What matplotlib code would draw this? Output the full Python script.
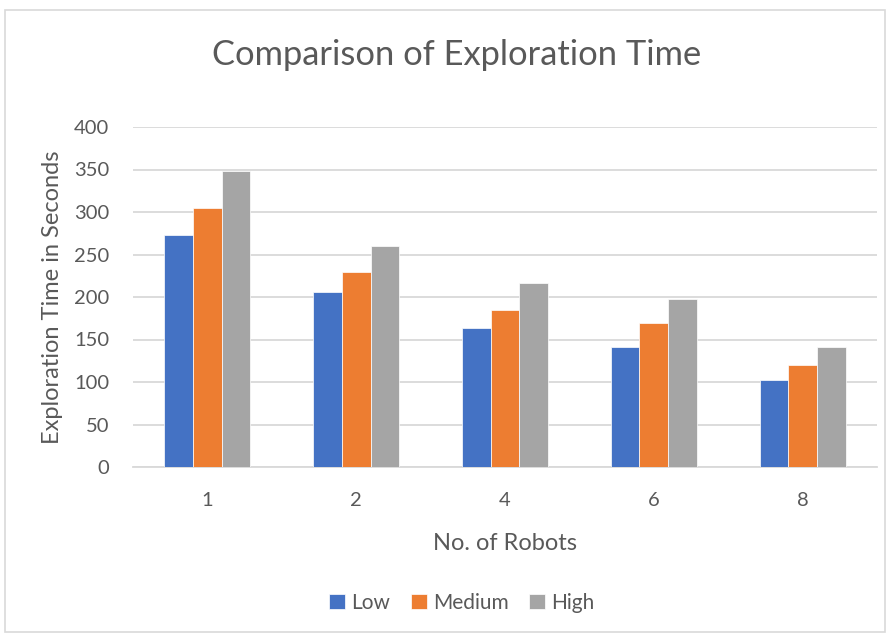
import numpy as np
import matplotlib.pyplot as plt
from matplotlib.patches import Rectangle

plt.rcParams['font.family'] = ['Lato', 'DejaVu Sans']

robots = ['1', '2', '4', '6', '8']
low = [273, 206, 163, 141, 102]
medium = [305, 229, 185, 170, 120]
high = [348, 260, 216, 198, 141]

series = [('Low', low, '#4472C4'), ('Medium', medium, '#ED7D31'), ('High', high, '#A5A5A5')]

fig = plt.figure(figsize=(8.93, 6.37), dpi=100)
ax = fig.add_axes([133 / 893, 1 - 467 / 637, (877 - 133) / 893, (467 - 127) / 637])

x = np.arange(len(robots))
w = 0.193
for i, (name, vals, col) in enumerate(series):
    ax.bar(x + (i - 1) * w, vals, w, color=col, label=name, zorder=3,
           edgecolor='white', linewidth=0.5)

ax.set_xlim(-0.5, len(robots) - 0.5)
ax.set_ylim(0, 400)
ax.set_yticks(range(0, 401, 50))
ax.set_xticks(x)
ax.set_xticklabels(robots)
ax.grid(axis='y', color='#D9D9D9', linewidth=1.3, zorder=0)
for s in ['top', 'right', 'left']:
    ax.spines[s].set_visible(False)
ax.spines['bottom'].set_color('#D9D9D9')
ax.spines['bottom'].set_linewidth(1.3)
ax.tick_params(axis='both', length=0, labelsize=14.5, colors='#595959')
ax.tick_params(axis='y', pad=17)
ax.tick_params(axis='x', pad=18)

ax.set_xlabel('No. of Robots', fontsize=17, color='#595959', labelpad=17)
ax.set_ylabel('Exploration Time in Seconds', fontsize=17, color='#595959', labelpad=8)

fig.text(457 / 893, 1 - 55 / 637, 'Comparison of Exploration Time', ha='center', va='center',
         fontsize=24.8, color='#595959')

fig.legend(loc='center', bbox_to_anchor=(462 / 893, 1 - 603 / 637), ncol=3, frameon=False,
           fontsize=15, handlelength=0.75, handleheight=0.75, handletextpad=0.3, columnspacing=1.0,
           labelcolor='#595959')

fig.patches.append(Rectangle((5 / 893, 5 / 637), 880 / 893, 622 / 637, transform=fig.transFigure,
                             fill=False, edgecolor='#D9D9D9', linewidth=1.2))

fig.savefig('out.png', dpi=100)
